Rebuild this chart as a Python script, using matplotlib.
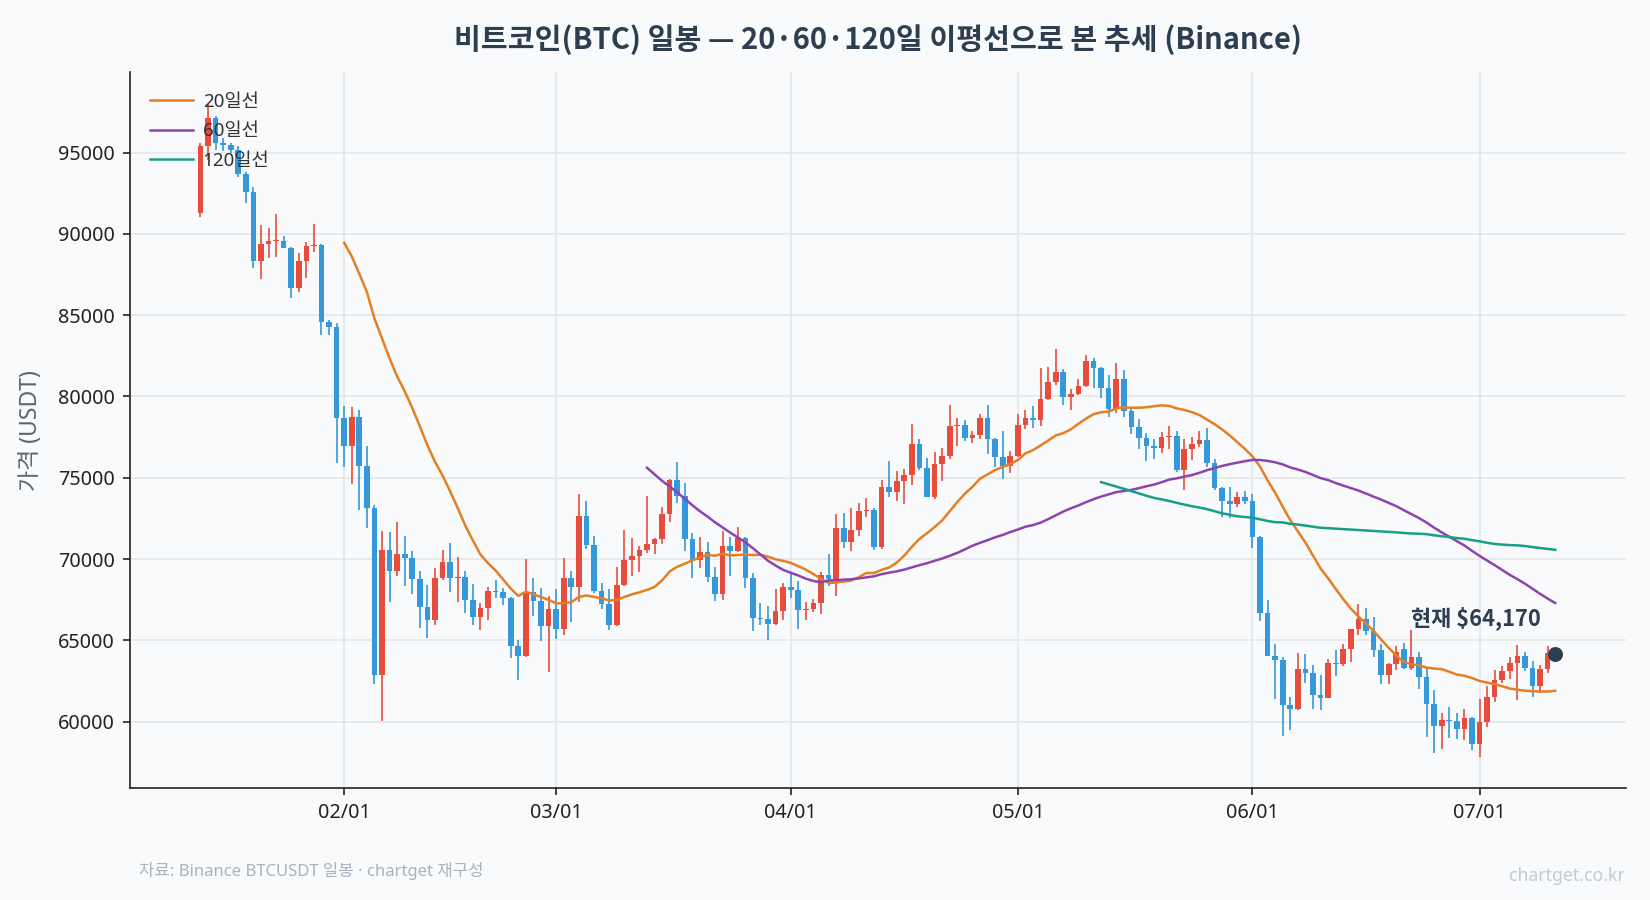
# BTC daily candles with 20/60/120-day moving averages

import matplotlib
matplotlib.use("Agg")
import matplotlib.pyplot as plt
import matplotlib.dates as mdates
from matplotlib.ticker import MultipleLocator
import numpy as np
import pandas as pd

plt.rcParams['font.family'] = ['Noto Sans', 'Noto Sans CJK KR', 'DejaVu Sans']

start_date = '2026-01-13'

# daily OHLC (USDT), Jan 13 .. Jul 11
opens = [
    91250, 95400, 97100, 95600, 95450, 95150, 93650, 92580, 88340, 89400, 89550, 89560, 89140, 86640, 88320, 89240, 89300, 84590, 84250,
    78700, 76930, 78730, 75740, 73130, 62880, 70560, 69250, 70330, 70080, 68790, 67030, 66240, 68830, 69830, 68830, 68870, 67490, 66450, 66980,
    68040, 67980, 67590, 64630, 64020, 68000, 67450, 65860,
    66940, 65730, 68820, 68310, 72630, 70840, 68060, 67240, 65920, 68410, 69950, 70190, 70560, 70930, 71220, 72770, 74860, 73880, 71220, 69950,
    70460, 68890, 67860, 70830, 70520, 71280, 68820, 66370, 66330, 66000, 66780,
    68270, 68110, 66850, 66950, 67300, 69020, 68770, 71930, 71030, 71800, 72970, 73030, 70720, 74430, 74120, 74820, 75180, 77090, 75590, 73790,
    75830, 76320, 78180, 78260, 77420, 77600, 78660, 77360, 76300, 75700,
    76320, 78240, 78660, 78550, 79830, 80870, 81490, 79960, 80170, 80660, 82190, 81760, 80520, 79240, 81070, 79090, 78100, 77420, 76940, 76800,
    77520, 77560, 75500, 76740, 77070, 77310, 75890, 74370, 73570, 73390, 73840,
    73570, 71380, 66700, 64070, 63820, 61000, 60770, 63270, 63010, 61650, 61470, 63580, 63540, 64460, 65730, 66300, 65600, 64440, 62900, 63540,
    64450, 63290, 63970, 62740, 61070, 59750, 60100, 60040, 59530, 60250,
    58600, 60000, 61500, 62570, 63090, 63600, 64050, 63330, 62220, 63230, 64220,
]
highs = [
    95600, 98000, 97240, 95900, 95600, 95400, 93800, 92890, 90530, 90330, 91200, 89870, 89200, 88790, 89500, 90590, 89350, 84680, 84500,
    79420, 79360, 79170, 76970, 73340, 71740, 71680, 72300, 71430, 70500, 69290, 68420, 69460, 70560, 71010, 70120, 69250, 68480, 67290, 68270,
    68710, 68200, 67690, 65040, 70000, 68860, 68240, 67740,
    68160, 70080, 69290, 74020, 73550, 71410, 68510, 68140, 69540, 71790, 71280, 70810, 73880, 71280, 73180, 74920, 75940, 74650, 71580, 71340,
    71070, 69540, 71750, 71340, 71990, 71380, 69130, 67290, 67090, 68150, 68560,
    69130, 68670, 67380, 67540, 69180, 70330, 72790, 72830, 73140, 73440, 73750, 73140, 74880, 76050, 75430, 75550, 78320, 77400, 76210, 76560,
    76860, 79480, 78660, 78550, 77870, 78930, 79480, 77460, 77870, 76630,
    78930, 79170, 79420, 81760, 81800, 82890, 81710, 80450, 81070, 82540, 82380, 81800, 81340, 82070, 81610, 79210, 78600, 77770, 77380, 77830,
    78180, 77890, 77360, 77480, 77870, 78040, 76140, 74420, 74460, 74110, 74210,
    74020, 71400, 67470, 64770, 63990, 61490, 64230, 64150, 63480, 62860, 63880, 64400, 64770, 65730, 67260, 66990, 66440, 64770, 63640, 64630,
    64840, 65660, 64280, 63290, 61950, 60550, 60880, 60510, 60760, 60310,
    61380, 62200, 63150, 63440, 63970, 64730, 64280, 63740, 63500, 64670, 64380,
]
lows = [
    91040, 94530, 95140, 95100, 94950, 93500, 91920, 87910, 87250, 88520, 88580, 89100, 86080, 86430, 87290, 88900, 83770, 83770, 75900,
    75680, 74640, 72990, 71890, 62340, 60020, 67340, 68940, 68320, 67860, 65790, 65160, 65930, 68730, 68000, 67340, 66660, 65930, 65650, 66270,
    67590, 67190, 63920, 62550, 63960, 66510, 64940, 63040,
    65080, 65310, 66160, 67390, 70610, 67900, 66940, 65610, 65860, 68370, 68990, 69230, 70400, 70320, 70930, 72300, 73430, 70520, 68820, 69440,
    68580, 67410, 67490, 68930, 70460, 68210, 65550, 65960, 65040, 65960, 66270,
    67600, 65720, 66270, 66740, 66640, 68320, 67750, 70700, 70470, 71440, 72560, 70530, 70620, 73790, 73550, 73380, 74530, 75450, 73790, 73700,
    74790, 76140, 76960, 77270, 77150, 77360, 76490, 75660, 74940, 75290,
    76280, 78000, 78080, 78200, 79790, 80720, 79500, 79170, 80100, 80580, 80520, 79900, 78760, 78970, 78720, 77670, 76740, 76030, 76180, 76550,
    76740, 75350, 74260, 76120, 76900, 75660, 74260, 72560, 72520, 73180, 73390,
    70680, 66200, 64050, 61390, 59120, 59520, 60710, 62390, 60770, 60750, 61470, 62800, 63430, 63680, 65360, 65360, 63950, 62290, 62350, 63210,
    63230, 63150, 62000, 59070, 58090, 58350, 58970, 58910, 58870, 58250,
    57800, 59690, 61230, 62370, 62610, 61340, 63090, 61540, 61790, 62980, 63980,
]
closes = [
    95400, 97100, 95600, 95450, 95150, 93650, 92580, 88340, 89400, 89550, 89560, 89140, 86640, 88320, 89240, 89300, 84590, 84250, 78700,
    76930, 78730, 75740, 73130, 62880, 70560, 69250, 70330, 70080, 68790, 67030, 66240, 68830, 69830, 68830, 68870, 67490, 66450, 66980, 68040,
    67980, 67590, 64630, 64020, 68000, 67450, 65860, 66940,
    65730, 68820, 68310, 72630, 70840, 68060, 67240, 65920, 68410, 69950, 70190, 70560, 70930, 71220, 72770, 74860, 73880, 71220, 69950, 70460,
    68890, 67860, 70830, 70520, 71280, 68820, 66370, 66330, 66000, 66780, 68270,
    68110, 66850, 66950, 67300, 69020, 68770, 71930, 71030, 71800, 72970, 73030, 70720, 74430, 74120, 74820, 75180, 77090, 75590, 73790, 75830,
    76320, 78180, 78260, 77420, 77600, 78660, 77360, 76300, 75700, 76320,
    78240, 78660, 78550, 79830, 80870, 81490, 79960, 80170, 80660, 82190, 81760, 80520, 79240, 81070, 79090, 78100, 77420, 76940, 76800, 77520,
    77560, 75500, 76740, 77070, 77310, 75890, 74370, 73570, 73390, 73840, 73570,
    71380, 66700, 64070, 63820, 61000, 60770, 63270, 63010, 61650, 61470, 63580, 63540, 64460, 65730, 66300, 65600, 64440, 62900, 63540, 64300,
    63290, 63970, 62740, 61070, 59750, 60100, 60040, 59530, 60250, 58600,
    60000, 61500, 62570, 63090, 63600, 64050, 63330, 62220, 63230, 64220, 64170,
]

ma_windows = [20, 60, 120]
ma_labels = ['20일선', '60일선', '120일선']
ma_colors = ['#e67e22', '#8e44ad', '#16a085']

UP = '#e74c3c'
DOWN = '#3498db'
BG = '#f8fafc'
BOLD_FONT = ['Noto Sans CJK KR', 'DejaVu Sans']

dates = pd.date_range(start_date, periods=len(closes), freq='D')
x = mdates.date2num(dates)
o = np.array(opens, dtype=float)
h = np.array(highs, dtype=float)
l = np.array(lows, dtype=float)
c = np.array(closes, dtype=float)

fig, ax = plt.subplots(figsize=(11, 6), dpi=150)
fig.patch.set_facecolor(BG)
ax.set_facecolor(BG)
fig.subplots_adjust(left=0.0785, right=0.9855, bottom=0.124, top=0.920)

colors = np.where(c >= o, UP, DOWN)
body_low = np.minimum(o, c)
body_h = np.maximum(np.abs(c - o), 70)

ax.vlines(x, l, h, colors=colors, linewidth=0.8, zorder=2)
ax.bar(x, body_h, bottom=body_low, width=0.75, color=colors, linewidth=0, zorder=3)

close_s = pd.Series(c)
for w, lab, col in zip(ma_windows, ma_labels, ma_colors):
    ma = close_s.rolling(w).mean()
    ax.plot(x, ma, color=col, linewidth=1.2, label=lab, zorder=4)

# last price marker
ax.scatter([x[-1]], [c[-1]], s=38, color='#2c3e50', zorder=6)
ax.annotate('현재 \\$' + f'{closes[-1]:,}', xy=(x[-1], c[-1]), xytext=(-38, 17),
            textcoords='offset points', ha='center', va='center', family=BOLD_FONT,
            fontsize=10.5, fontweight='bold', color='#2c3e50')

ax.set_ylim(55900, 99950)
ax.yaxis.set_major_locator(MultipleLocator(5000))
ax.ticklabel_format(axis='y', style='plain', useOffset=False)
ax.xaxis.set_major_locator(mdates.MonthLocator())
ax.xaxis.set_major_formatter(mdates.DateFormatter('%m/%d'))
ax.tick_params(labelsize=9.5, colors='#222222')

ax.grid(True, color='#e4e7eb', linewidth=0.8, zorder=0)
ax.set_axisbelow(True)
for side in ['top', 'right']:
    ax.spines[side].set_visible(False)
for side in ['left', 'bottom']:
    ax.spines[side].set_color('#222222')

ax.set_ylabel('가격 (USDT)', fontsize=11, color='#5b6675', labelpad=7)
ax.set_title('비트코인(BTC) 일봉 — 20·60·120일 이평선으로 본 추세 (Binance)', family=BOLD_FONT,
             fontsize=14, fontweight='bold', color='#2c3e50', pad=11)

leg = ax.legend(loc='upper left', frameon=False, fontsize=9, handlelength=2.3,
                labelspacing=0.62, handletextpad=0.5, borderpad=0.6)
for t in leg.get_texts():
    t.set_color('#333333')

fig.text(0.084, 0.027, '자료: Binance BTCUSDT 일봉 · chartget 재구성', fontsize=8, color='#a9b2bf')
fig.text(0.985, 0.021, 'chartget.co.kr', fontsize=8.5, color='#c3cad3', ha='right')

fig.savefig('out.png', dpi=150, facecolor=BG)
